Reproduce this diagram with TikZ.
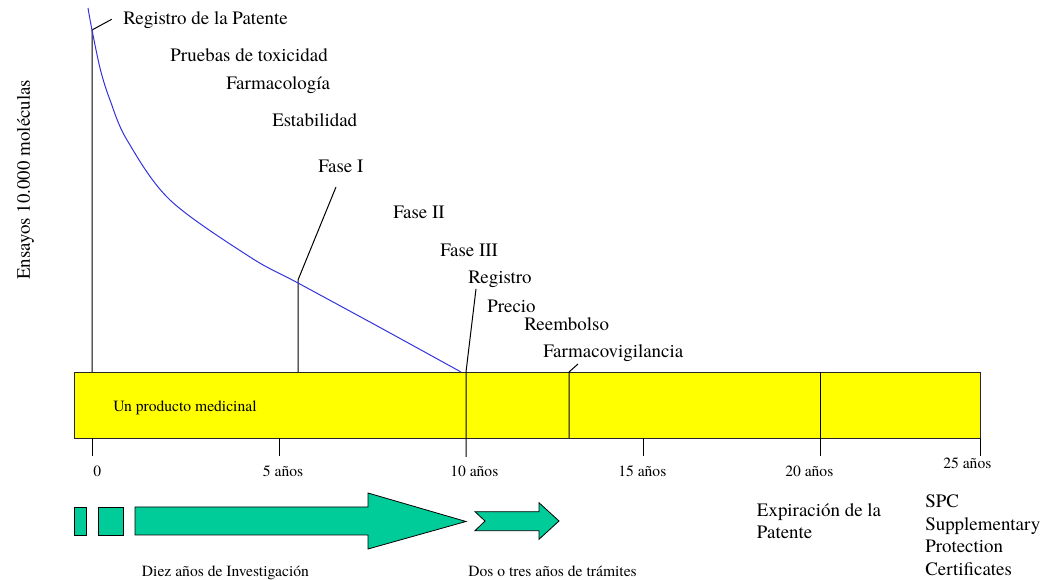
\documentclass[tikz,border=0pt]{standalone}
\usepackage{fontspec}
\setmainfont{TeX Gyre Termes}
\newfontfamily\tnr{TeX Gyre Termes}
\definecolor{arrowgreen}{HTML}{00CC99}
\definecolor{curveblue}{HTML}{3333DD}
\definecolor{baryellow}{HTML}{FFFF00}
\begin{document}
\begin{tikzpicture}[x=0.75pt,y=-0.75pt,
  big/.style={font=\tnr\fontsize{14.2}{17}\selectfont, inner sep=0pt, anchor=base west},
  small/.style={font=\tnr\fontsize{11.7}{13}\selectfont, inner sep=0pt, anchor=base west},
  ln/.style={line width=0.75pt, black},
  arr/.style={fill=arrowgreen, draw=black, line width=0.6pt, line join=miter},
  barstyle/.style={fill=baryellow, draw=black!85, line width=0.9pt, inner sep=0pt,
     minimum width=679.5pt, minimum height=49.5pt, anchor=north west}]
\useasboundingbox (0,0) rectangle (1047,580);

% yellow bar
\node[barstyle] (bar) at (74,372) {};

% upper labels
\node[big] (patente) at (123,25) {Registro de la Patente};
\node[big] (tox) at (170,61.7) {Pruebas de toxicidad};
\node[big] (farm) at (226,90) {Farmacología};
\node[big] (estab) at (272,126.7) {Estabilidad};
\node[big] (f1) at (318,172.7) {Fase I};
\node[big] (f2) at (393,219) {Fase II};
\node[big] (f3) at (440,256.7) {Fase III};
\node[big] (reg) at (468,284) {Registro};
\node[big] (precio) at (487,312.7) {Precio};
\node[big] (reemb) at (524,330.7) {Reembolso};
\node[big] (fv) at (543,358) {Farmacovigilancia};
\node[big, rotate=90] (ens) at (30,280) {Ensayos 10.000 moléculas};

% bar label and axis labels
\node[small] (prod) at (113,412) {Un producto medicinal};
\node[small] (l0) at (93,476.7) {0};
\node[small] (l5) at (262.7,476.7) {5 años};
\node[small] (l10) at (450,476.7) {10 años};
\node[small] (l15) at (618,476.7) {15 años};
\node[small] (l20) at (785,476.7) {20 años};
\node[small] (l25) at (943,468.3) {25 años};
\node[small] (diez) at (141.7,576.7) {Diez años de Investigación};
\node[small] (dos) at (468,576.7) {Dos o tres años de trámites};

% lower right labels
\node[big] (exp1) at (756.7,517) {Expiración de la};
\node[big] (exp2) at (756.7,539) {Patente};
\node[big] (spc1) at (925,508) {SPC};
\node[big] (spc2) at (925,530.7) {Supplementary};
\node[big] (spc3) at (925,552.7) {Protection};
\node[big] (spc4) at (925,576) {Certificates};

% coordinates
\coordinate (v0top) at (92,30);
\coordinate (v0bot) at (92,372);
\coordinate (patlead) at (111.7,19.3);
\coordinate (f1top) at (336,187);
\coordinate (f1knee) at (298,280);
\coordinate (f1bot) at (298,372);
\coordinate (regtop) at (476,289);
\coordinate (regknee) at (466,372);
\coordinate (regbot) at (466,457);
\coordinate (fvtop) at (578,364);
\coordinate (fvknee) at (569,372);
\coordinate (fvbot) at (569,438);
\coordinate (v20top) at (820.5,372);
\coordinate (v20bot) at (820.5,456);

% leader lines
\draw[ln] (v0bot) -- (v0top) -- (patlead);
\draw[ln] (f1bot) -- (f1knee) -- (f1top);
\draw[ln] (regbot) -- (regknee) -- (regtop);
\draw[ln] (fvbot) -- (fvknee) -- (fvtop);
\draw[ln] (v20top) -- (v20bot);

% ticks
\foreach \x/\n in {92.5/t0,279/t5,643.5/t15,980/t25}{
  \coordinate (\n a) at (\x,438);
  \coordinate (\n b) at (\x,456);
  \draw[ln] (\n a) -- (\n b);
}

% blue curve
\draw[curveblue, line width=0.75pt] plot[smooth, tension=0.55] coordinates
  {(88,8) (92,30) (100.5,70) (110,100) (127,140) (170,200) (250,257) (298,283) (380,327.5) (461,372)};

% arrows
\draw[arr] (74,507) rectangle (86.7,535);
\draw[arr] (98,507) rectangle (123,535);
\draw[arr] (135,507) -- (368,507) -- (368,493) -- (466,521.5) -- (368,549) -- (368,535) -- (135,535) -- cycle;
\draw[arr] (475,511.7) -- (539,511.7) -- (539,502.7) -- (559,521) -- (539,539.3) -- (539,530.7) -- (475,530.7) -- (485,521) -- cycle;
\end{tikzpicture}
\end{document}
